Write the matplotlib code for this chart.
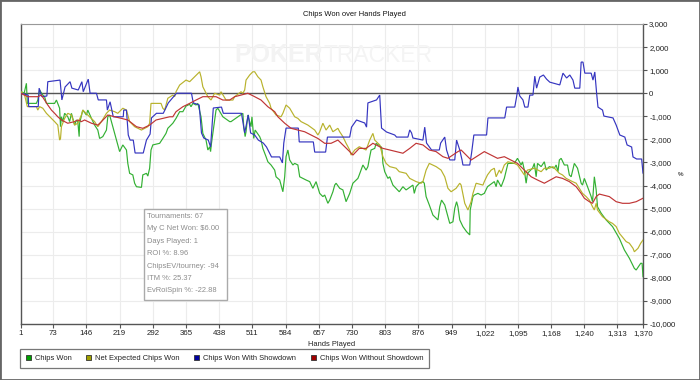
import matplotlib
matplotlib.use("Agg")
import matplotlib.pyplot as plt
from matplotlib.patches import Rectangle, Patch

plt.rcParams['font.family'] = ['Liberation Sans', 'DejaVu Sans']

# ---------------- data (hands played, chips) ----------------
chips_won = [(1,0),(3,65),(9,0),(14,430),(16,-440),(36,-440),(39,-295),(43,140),(50,-80),(54,-150),(58,-440),(76,-440),(80,-295),(87,-650),(89,-1450),(91,-1020),(94,-1230),(98,-870),(105,-1020),(109,-1230),(113,-870),(120,-1380),(124,-1160),(127,-1230),(130,-1880),(131,-1300),(138,-730),(146,-945),(149,-730),(157,-1090),(164,-1380),(171,-1595),(175,-1960),(182,-1880),(190,-1595),(193,-1020),(197,-945),(204,-1450),(212,-2030),(219,-2530),(226,-2240),(234,-2460),(237,-3040),(241,-3470),(248,-3540),(252,-3900),(256,-4050),(267,-4080),(270,-3540),(278,-3470),(281,-3590),(285,-3250),(288,-2460),(292,-2240),(307,-2170),(314,-1960),(321,-1740),(325,-1520),(336,-1300),(343,-1090),(351,-800),(358,-800),(365,-555),(373,-480),(376,-585),(380,-440),(387,-510),(391,-440),(398,-1020),(402,-1740),(409,-2030),(413,-2460),(417,-2320),(419,-2530),(421,-2170),(428,-1160),(431,-730),(435,-650),(446,-1020),(461,-1230),(464,-1230),(479,-1020),(490,-870),(492,-1450),(495,-1880),(497,-1670),(501,-945),(508,-1450),(510,-1020),(514,-1960),(517,-1595),(527,-1880),(530,-2030),(534,-2390),(541,-2750),(545,-2970),(552,-3110),(560,-3330),(563,-3620),(571,-3760),(574,-3980),(578,-4270),(582,-3620),(585,-2750),(589,-2460),(593,-2895),(600,-3110),(604,-3040),(611,-3110),(615,-3620),(629,-3760),(637,-3830),(644,-4120),(651,-3830),(659,-4340),(666,-4480),(670,-4410),(677,-4770),(681,-4630),(688,-4270),(692,-3980),(695,-3900),(703,-4120),(710,-4190),(714,-4480),(717,-4700),(725,-4340),(732,-3900),(743,-3690),(746,-3540),(754,-3110),(761,-3330),(765,-3180),(769,-2750),(772,-2460),(780,-2390),(783,-2170),(794,-2320),(796,-2460),(798,-3040),(802,-3400),(809,-3690),(813,-3620),(820,-3980),(834,-4270),(842,-4050),(849,-4190),(864,-3980),(867,-4340),(871,-4050),(878,-3900),(886,-3830),(889,-3900),(893,-4480),(900,-4840),(908,-5280),(919,-5490),(923,-4920),(927,-4630),(934,-4840),(941,-5350),(945,-5640),(952,-5570),(956,-4990),(960,-4700),(963,-4920),(967,-5490),(974,-5780),(982,-6000),(989,-6140),(990,-5060),(993,-4770),(996,-4480),(999,-4410),(1007,-4340),(1014,-4410),(1021,-4340),(1028,-4050),(1043,-3830),(1047,-4050),(1050,-3760),(1058,-4050),(1065,-3690),(1073,-3040),(1087,-3040),(1094,-2820),(1102,-3110),(1105,-2970),(1109,-3330),(1113,-3900),(1116,-3470),(1127,-3250),(1131,-3040),(1135,-3620),(1138,-3040),(1146,-3180),(1153,-2970),(1157,-3330),(1164,-3180),(1175,-3250),(1179,-3110),(1183,-3400),(1186,-2895),(1190,-2820),(1197,-3110),(1204,-3110),(1208,-3540),(1212,-3620),(1219,-3040),(1226,-3250),(1234,-3900),(1237,-3980),(1241,-3690),(1248,-4050),(1256,-4480),(1259,-4700),(1263,-3620),(1267,-4190),(1270,-4920),(1278,-5200),(1289,-5490),(1303,-5780),(1318,-6290),(1329,-6790),(1340,-7150),(1351,-7590),(1355,-7660),(1365,-7370),(1368,-7370),(1370,-7950)]

net_expected = [(1,0),(3,65),(10,-80),(16,-580),(36,-580),(39,-730),(43,-580),(50,-650),(58,-870),(69,-1090),(76,-1230),(83,-1380),(87,-2030),(89,-1960),(91,-1450),(98,-1090),(105,-870),(113,-945),(120,-1380),(127,-1300),(135,-945),(138,-730),(149,-945),(164,-1230),(171,-1450),(179,-1230),(190,-870),(197,-730),(208,-800),(215,-870),(226,-650),(234,-730),(241,-1230),(252,-1450),(267,-1595),(281,-1450),(285,-1300),(288,-440),(310,-440),(314,-650),(318,-730),(321,-510),(325,-220),(336,-80),(340,-150),(343,65),(351,355),(365,570),(373,500),(384,715),(395,930),(398,715),(402,280),(409,0),(413,-150),(420,-295),(428,0),(439,-80),(442,65),(453,-295),(468,-295),(472,-150),(486,65),(490,0),(494,140),(497,570),(505,790),(512,930),(516,930),(523,715),(530,570),(534,280),(541,-150),(549,-440),(552,-650),(563,-945),(574,-1020),(578,-870),(585,-510),(593,-650),(604,-1020),(611,-1090),(618,-1230),(633,-1380),(648,-1595),(655,-1810),(659,-1670),(666,-1300),(673,-1595),(681,-1380),(688,-1670),(699,-1520),(703,-1670),(710,-1880),(717,-2170),(725,-2460),(728,-2680),(736,-2460),(746,-2320),(761,-2460),(769,-2030),(776,-1740),(780,-2030),(791,-2240),(798,-2750),(805,-3040),(813,-3180),(827,-3250),(834,-3400),(849,-3470),(857,-3690),(871,-3830),(882,-3900),(886,-3830),(893,-3330),(900,-3040),(915,-3180),(926,-3330),(934,-3620),(941,-4120),(948,-4270),(959,-4120),(967,-3900),(970,-3980),(978,-4770),(985,-5060),(992,-4700),(996,-4340),(1003,-3900),(1018,-3980),(1021,-3830),(1028,-3540),(1036,-3330),(1043,-3250),(1047,-3620),(1054,-3330),(1058,-3470),(1065,-3110),(1073,-2970),(1087,-3040),(1094,-3110),(1109,-3540),(1116,-3330),(1131,-3250),(1146,-3400),(1153,-3250),(1164,-3250),(1172,-3180),(1186,-3470),(1193,-3540),(1201,-3690),(1215,-3830),(1223,-3900),(1230,-4120),(1237,-4340),(1245,-4480),(1252,-4630),(1259,-4920),(1263,-5060),(1267,-4770),(1270,-5060),(1281,-5350),(1296,-5570),(1303,-5640),(1311,-5780),(1318,-6070),(1333,-6430),(1340,-6500),(1348,-6720),(1351,-6870),(1359,-6720),(1365,-6500),(1370,-6360)]

with_showdown = [(1,0),(18,-80),(19,-580),(40,-580),(42,220),(48,-150),(59,-120),(61,500),(88,570),(92,-290),(99,270),(110,500),(114,220),(128,140),(136,500),(139,65),(150,610),(154,0),(168,0),(172,-290),(190,-290),(192,-730),(198,-370),(205,-1020),(227,-1020),(228,-730),(234,-730),(238,-1810),(242,-2030),(249,-2030),(253,-2590),(271,-2590),(278,-2030),(286,-1770),(289,-1070),(300,-870),(315,-870),(326,-420),(344,0),(377,0),(381,-420),(394,-510),(399,-1720),(404,-1940),(414,-2030),(419,-2330),(425,-640),(443,-600),(447,-870),(487,-870),(494,-1720),(502,-940),(507,-1720),(516,-1810),(524,-2030),(535,-2160),(542,-2330),(553,-2760),(571,-2760),(577,-3020),(580,-2160),(585,-1510),(612,-1510),(614,-2110),(645,-2110),(648,-2550),(672,-2550),(676,-1900),(725,-1900),(729,-1470),(740,-1160),(758,-1290),(762,-1470),(765,-420),(784,-290),(791,-80),(795,-1510),(806,-1680),(824,-1810),(828,-1900),(853,-1900),(857,-1590),(861,-1720),(864,-1940),(886,-2030),(890,-1470),(894,-2160),(905,-2460),(922,-2460),(925,-2160),(934,-1900),(938,-2460),(945,-2890),(956,-2890),(960,-2030),(967,-2460),(972,-2890),(974,-3110),(989,-3110),(993,-2590),(998,-1810),(1026,-1810),(1029,-1070),(1066,-1070),(1070,-600),(1088,-600),(1092,-160),(1095,270),(1099,-120),(1106,-290),(1110,-600),(1117,-600),(1121,-80),(1128,-80),(1132,740),(1136,220),(1143,700),(1151,790),(1158,610),(1165,480),(1187,360),(1194,870),(1202,660),(1209,790),(1216,570),(1220,220),(1231,220),(1234,1350),(1238,1350),(1242,870),(1256,870),(1260,570),(1264,920),(1268,0),(1271,-600),(1281,-730),(1284,-990),(1304,-1070),(1311,-1380),(1319,-1810),(1330,-1900),(1335,-2240),(1345,-2330),(1348,-2760),(1356,-2850),(1367,-2850),(1370,-3460)]

without_showdown = [(1,0),(17,-150),(39,-150),(47,-80),(54,-295),(61,-510),(69,-730),(76,-870),(83,-1020),(91,-1160),(98,-1230),(105,-1300),(120,-1230),(127,-1160),(135,-1230),(142,-1160),(157,-1300),(171,-1380),(179,-1230),(193,-945),(208,-1020),(223,-1090),(237,-1160),(256,-1450),(270,-1520),(285,-1380),(299,-1160),(314,-1090),(329,-1020),(336,-1020),(343,-800),(358,-585),(373,-440),(387,-295),(402,-150),(417,-150),(431,-150),(446,-295),(461,-295),(472,-150),(486,-80),(501,0),(516,-150),(530,-295),(545,-585),(560,-800),(567,-1020),(582,-1300),(596,-1520),(611,-1595),(626,-1670),(640,-1810),(655,-1960),(670,-2170),(684,-2170),(699,-2030),(710,-2240),(725,-2530),(732,-2680),(746,-2390),(761,-2390),(776,-2170),(798,-2390),(813,-2460),(842,-2600),(857,-2390),(871,-2170),(886,-2240),(900,-2460),(915,-2530),(930,-2750),(941,-2820),(963,-2530),(970,-2460),(992,-2895),(1021,-2530),(1050,-2820),(1065,-2750),(1094,-3040),(1109,-3330),(1124,-3620),(1138,-3760),(1153,-3900),(1179,-3620),(1193,-3690),(1208,-3830),(1223,-4050),(1234,-4340),(1241,-4550),(1252,-4700),(1259,-4770),(1267,-4480),(1274,-4370),(1296,-4480),(1311,-4700),(1325,-4770),(1340,-4770),(1355,-4700),(1370,-4550)]

series_names = ["Chips Won", "Net Expected Chips Won", "Chips Won With Showdown", "Chips Won Without Showdown"]
x_tick_values = [1, 73, 146, 219, 292, 365, 438, 511, 584, 657, 730, 803, 876, 949, 1022, 1095, 1168, 1240, 1313, 1370]
y_tick_values = list(range(-10000, 3001, 1000))
stats_lines = ["Tournaments: 67", "My C Net Won: $6.00", "Days Played: 1", "ROI %: 8.96",
               "ChipsEV/tourney: -94", "ITM %: 25.37", "EvRoiSpin %: -22.88"]

# ---------------- styling ----------------
line_colors = ['#33b033', '#b8b22c', '#3535c0', '#c03535']
legend_colors = ['#00a000', '#a0a000', '#0000a0', '#a00000']
FS = 5.4
W, H = 700, 380

fig = plt.figure(figsize=(7, 3.8), dpi=100)
ax = fig.add_axes([20.5 / W, 56 / H, 622.5 / W, 300 / H])

for data, col in zip([chips_won, net_expected, with_showdown, without_showdown], line_colors):
    xs = [p[0] for p in data]
    ys = [p[1] for p in data]
    ax.plot(xs, ys, color=col, lw=0.85, zorder=3, solid_joinstyle='miter')

ax.axhline(0, color='#555555', lw=1.0, zorder=2)
ax.set_xlim(1, 1370)
ax.set_ylim(-10000, 3000)
ax.set_xticks(x_tick_values)
ax.set_xticklabels([f"{v:,}" for v in x_tick_values])
ax.set_yticks(y_tick_values)
ax.set_yticklabels([f"{v:,}" for v in y_tick_values])
ax.yaxis.tick_right()
ax.tick_params(axis='both', labelsize=5.7, length=3, width=0.8, color='#555555',
               pad=1.5, labelcolor='#222222')
ax.grid(True, color='#ececec', lw=0.8)
ax.set_axisbelow(True)
for side in ['left', 'bottom', 'right']:
    ax.spines[side].set_color('#555555')
    ax.spines[side].set_linewidth(1.0)
ax.spines['top'].set_color('#999999')
ax.spines['top'].set_linewidth(0.8)
ax.set_xlabel('Hands Played', fontsize=FS, color='#222222', labelpad=2.5)

# title
fig.text(354 / W, 1 - 14 / H, 'Chips Won over Hands Played', ha='center', va='center',
         fontsize=FS, color='#111111')
# right axis label
fig.text(681 / W, 1 - 174 / H, '%', ha='center', va='center', fontsize=4.5,
         color='#444444', weight='bold')

# watermark
fig.text(323 / W, 1 - 55 / H, 'POKER', ha='right', va='center', fontsize=18,
         family=['Liberation Sans Narrow', 'Liberation Sans'], weight='bold', color='#f3f3f3', zorder=0)
fig.text(324 / W, 1 - 55 / H, 'TRACKER', ha='left', va='center', fontsize=16.5,
         family=['Liberation Sans Narrow', 'Liberation Sans'], color='#f4f4f4', zorder=0)

# stats box
fig.patches.append(Rectangle((143.5 / W, 1 - 300 / H), (227 - 143.5) / W, (300 - 208.5) / H,
                             transform=fig.transFigure, facecolor='white', edgecolor='#aaaaaa',
                             lw=1.0, zorder=5))
for i, s in enumerate(stats_lines):
    fig.text(147 / W, 1 - (216.5 + i * 12.4) / H, s, ha='left', va='center', fontsize=FS,
             color='#8c8c8c', zorder=6)

# legend
handles = [Patch(facecolor=c, edgecolor='#333333', lw=0.6) for c in legend_colors]
leg = fig.legend(handles, series_names, loc='upper left', bbox_to_anchor=(20 / W, 1 - 349 / H),
                 ncol=4, fontsize=FS, frameon=True, fancybox=False, edgecolor='#555555',
                 handlelength=0.7, handleheight=0.7, handletextpad=0.5, columnspacing=1.95,
                 borderpad=0.75, borderaxespad=0)
leg.get_frame().set_linewidth(0.9)
for t in leg.get_texts():
    t.set_color('#222222')

# outer frame
fig.patches.append(Rectangle((0, 0), 1, 1, transform=fig.transFigure, fill=False,
                             edgecolor='#666666', lw=2.0))

fig.savefig('out.png', dpi=100)
